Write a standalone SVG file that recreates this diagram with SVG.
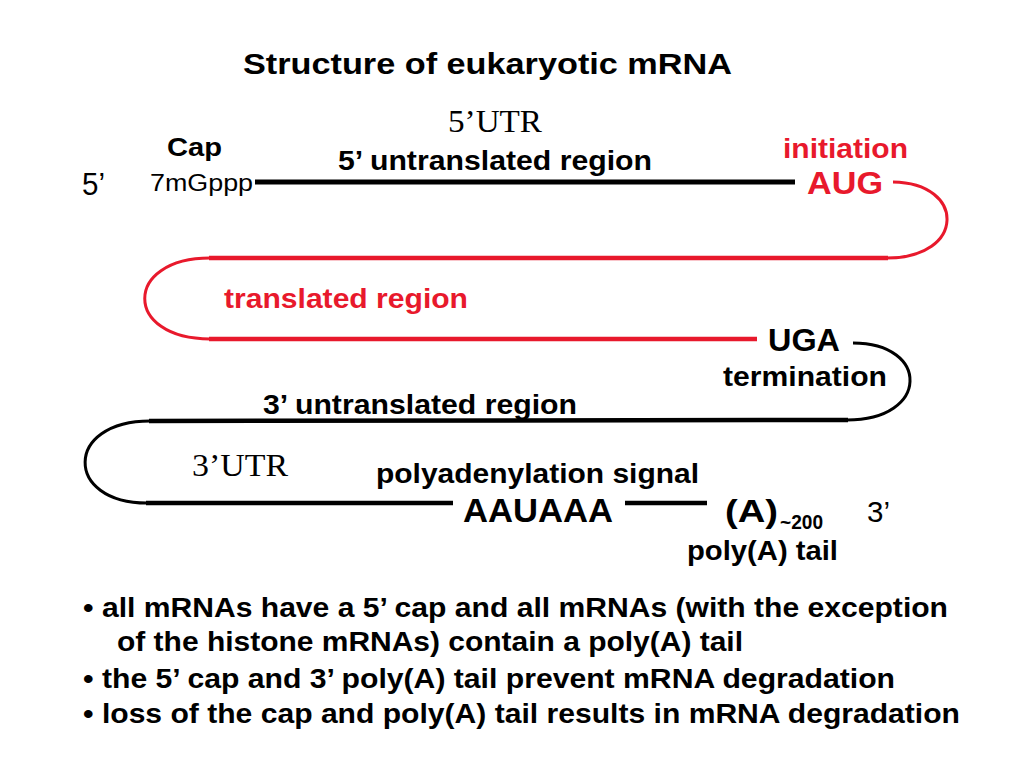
<svg xmlns="http://www.w3.org/2000/svg" width="1024" height="768" viewBox="0 0 1024 768">
<style>
.s{font-family:"Liberation Sans",Arial,sans-serif;fill:#000}
.b{font-weight:bold}
.r{fill:#e8192c}
.t{font-family:"Liberation Serif","Times New Roman",serif;fill:#000}
.lk{stroke:#000;fill:none;stroke-linecap:butt}
.lr{stroke:#e8192c;fill:none;stroke-linecap:butt}
</style>
<rect width="1024" height="768" fill="#fff"/>
<g id="title"><text class="s b" x="243" y="74" font-size="30" textLength="489" lengthAdjust="spacingAndGlyphs">Structure of eukaryotic mRNA</text></g>
<g id="connectors">
<line class="lk" x1="255" y1="182" x2="795" y2="182" stroke-width="5"/>
<path class="lr" d="M893,182 C966,183 966,258 887,258" stroke-width="3"/>
<line class="lr" x1="888" y1="258" x2="209" y2="258" stroke-width="4.5"/>
<path class="lr" d="M210,258 C123,258 123,339 210,339" stroke-width="3"/>
<line class="lr" x1="209" y1="339" x2="757" y2="339" stroke-width="4.5"/>
<path class="lk" d="M853,343 C930,343 930,420 847,420" stroke-width="3"/>
<line class="lk" x1="848" y1="420" x2="149" y2="421" stroke-width="4.5"/>
<path class="lk" d="M150,421 C64,421 64,503 147,503" stroke-width="3"/>
<line class="lk" x1="146" y1="503" x2="453" y2="503" stroke-width="4.5"/>
<line class="lk" x1="625" y1="503" x2="707" y2="503" stroke-width="4.5"/>
</g>
<g id="five-prime-end">
<text class="s" x="82" y="195" font-size="31" textLength="23" lengthAdjust="spacingAndGlyphs">5’</text>
<text class="s b" x="167" y="156" font-size="25" textLength="55" lengthAdjust="spacingAndGlyphs">Cap</text>
<text class="s" x="150" y="191" font-size="23" textLength="103" lengthAdjust="spacingAndGlyphs">7mGppp</text>
</g>
<g id="utr5">
<text class="t" x="448" y="132" font-size="31" textLength="94" lengthAdjust="spacingAndGlyphs">5’UTR</text>
<text class="s b" x="338" y="170" font-size="28" textLength="314" lengthAdjust="spacingAndGlyphs">5’ untranslated region</text>
</g>
<g id="initiation">
<text class="s b r" x="783" y="158" font-size="28" textLength="125" lengthAdjust="spacingAndGlyphs">initiation</text>
<text class="s b r" x="807" y="194" font-size="32" textLength="76" lengthAdjust="spacingAndGlyphs">AUG</text>
</g>
<g id="translated">
<text class="s b r" x="224" y="308" font-size="28" textLength="244" lengthAdjust="spacingAndGlyphs">translated region</text>
</g>
<g id="termination">
<text class="s b" x="768" y="351" font-size="31" textLength="72" lengthAdjust="spacingAndGlyphs">UGA</text>
<text class="s b" x="723" y="386" font-size="28" textLength="164" lengthAdjust="spacingAndGlyphs">termination</text>
</g>
<g id="utr3">
<text class="s b" x="263" y="414" font-size="28" textLength="314" lengthAdjust="spacingAndGlyphs">3’ untranslated region</text>
<text class="t" x="192" y="476" font-size="31" textLength="96" lengthAdjust="spacingAndGlyphs">3’UTR</text>
</g>
<g id="polyadenylation">
<text class="s b" x="376" y="483" font-size="28" textLength="323" lengthAdjust="spacingAndGlyphs">polyadenylation signal</text>
<text class="s b" x="463" y="522" font-size="33" textLength="150" lengthAdjust="spacingAndGlyphs">AAUAAA</text>
</g>
<g id="polyA-tail">
<text class="s b" x="725" y="522" font-size="31" textLength="53" lengthAdjust="spacingAndGlyphs">(A)</text>
<text class="s b" x="780" y="529" font-size="21" textLength="43" lengthAdjust="spacingAndGlyphs">~200</text>
<text class="s" x="867" y="522" font-size="30" textLength="23" lengthAdjust="spacingAndGlyphs">3’</text>
<text class="s b" x="687" y="560" font-size="28" textLength="151" lengthAdjust="spacingAndGlyphs">poly(A) tail</text>
</g>
<g id="notes">
<text class="s b" x="83" y="617" font-size="27" textLength="865" lengthAdjust="spacingAndGlyphs">• all mRNAs have a 5’ cap and all mRNAs (with the exception</text>
<text class="s b" x="117" y="651" font-size="27" textLength="626" lengthAdjust="spacingAndGlyphs">of the histone mRNAs) contain a poly(A) tail</text>
<text class="s b" x="83" y="688" font-size="27" textLength="812" lengthAdjust="spacingAndGlyphs">• the 5’ cap and 3’ poly(A) tail prevent mRNA degradation</text>
<text class="s b" x="83" y="723" font-size="27" textLength="877" lengthAdjust="spacingAndGlyphs">• loss of the cap and poly(A) tail results in mRNA degradation</text>
</g>
</svg>
